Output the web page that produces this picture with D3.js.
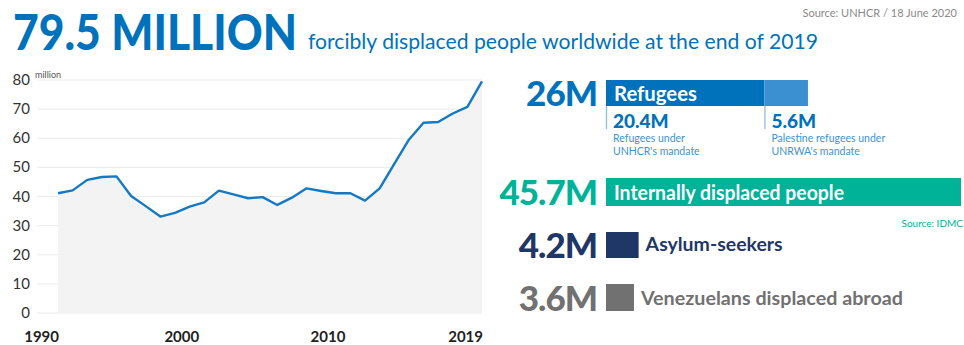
<!DOCTYPE html>
<html>
<head>
<meta charset="utf-8">
<script src="https://cdn.jsdelivr.net/npm/d3@7"></script>
<style>
  body { margin: 0; background: #fff; }
  svg text { font-family: Lato, "Open Sans", sans-serif; }
</style>
</head>
<body>
<svg width="964" height="345"></svg>
<script>
// データ（単位：百万人）
var years = d3.range(1990, 2020);
var displaced = [41.1, 42.1, 45.7, 46.7, 46.9, 40.2, 36.7, 33.1, 34.4, 36.5,
                 38.0, 42.0, 40.7, 39.4, 39.8, 37.1, 39.6, 42.8, 41.9, 41.1,
                 41.1, 38.6, 42.8, 51.2, 59.5, 65.3, 65.6, 68.5, 70.8, 79.5];
var yTicks = [0, 10, 20, 30, 40, 50, 60, 70, 80];
var xTicks = [1990, 2000, 2010, 2019];

// 右側の内訳
var groups = ["Refugees", "Internally displaced people", "Asylum-seekers", "Venezuelans displaced abroad"];
var groupValues = [26, 45.7, 4.2, 3.6];
var groupLabels = ["26M", "45.7M", "4.2M", "3.6M"];
var groupColors = ["#0072bc", "#00b398", "#1f3766", "#717171"];
var refugeeParts = [20.4, 5.6];
var refugeePartLabels = ["20.4M", "5.6M"];
var refugeePartText = [["Refugees under", "UNHCR's mandate"], ["Palestine refugees under", "UNRWA's mandate"]];

var svg = d3.select("svg");
var blue = "#0072bc";

// タイトル
svg.append("text").attr("x", 13).attr("y", 50)
   .attr("font-size", 49).attr("font-weight", 900).attr("fill", blue)
   .attr("textLength", 284).attr("lengthAdjust", "spacingAndGlyphs")
   .text("79.5 MILLION");
svg.append("text").attr("x", 308).attr("y", 49)
   .attr("font-size", 21).attr("fill", blue)
   .attr("textLength", 510).attr("lengthAdjust", "spacingAndGlyphs")
   .text("forcibly displaced people worldwide at the end of 2019");
svg.append("text").attr("x", 957).attr("y", 17).attr("text-anchor", "end")
   .attr("font-size", 11).attr("fill", "#8a8a8a")
   .text("Source: UNHCR / 18 June 2020");

// 折れ線グラフ
var x = d3.scaleLinear().domain([1990, 2019]).range([58, 482]);
var y = d3.scaleLinear().domain([0, 80]).range([313, 80]);

var chart = svg.append("g");
chart.selectAll("line.grid").data(yTicks).enter().append("line")
   .attr("class", "grid")
   .attr("x1", 37).attr("x2", 482)
   .attr("y1", function(d){ return y(d); }).attr("y2", function(d){ return y(d); })
   .attr("stroke", "#ebebeb").attr("stroke-width", 1);

var pts = years.map(function(yr, i){ return [yr, displaced[i]]; });
chart.append("path").datum(pts)
   .attr("d", d3.area().x(function(d){ return x(d[0]); }).y0(y(0)).y1(function(d){ return y(d[1]); }))
   .attr("fill", "#f3f3f3");
chart.append("path").datum(pts)
   .attr("d", d3.line().x(function(d){ return x(d[0]); }).y(function(d){ return y(d[1]); }))
   .attr("fill", "none").attr("stroke", "#1479c4").attr("stroke-width", 2.4)
   .attr("stroke-linejoin", "round");

chart.selectAll("text.ytick").data(yTicks).enter().append("text")
   .attr("class", "ytick")
   .attr("x", 30).attr("y", function(d){ return y(d) + 5; })
   .attr("text-anchor", "end").attr("font-size", 15).attr("fill", "#333")
   .text(function(d){ return d; });
chart.append("text").attr("x", 35).attr("y", 78)
   .attr("font-size", 9).attr("fill", "#555").text("million");

chart.selectAll("text.xtick").data(xTicks).enter().append("text")
   .attr("class", "xtick")
   .attr("x", function(d){ return (d === 2019 || d === 1990) ? x(d) + 1 : x(d) - 5; })
   .attr("y", 342).attr("text-anchor", "end")
   .attr("font-size", 15).attr("font-weight", 700).attr("fill", "#222")
   .text(function(d){ return d; });

// 右側の棒
var bx = d3.scaleLinear().domain([0, 45.7]).range([606, 961]);
var rows = [
  { top: 80, h: 26, base: 106, label: 101, len: 83 },
  { top: 178, h: 28, base: 205, label: 200, len: 230 },
  { top: 232, h: 26, base: 258, label: 251, len: 137 },
  { top: 284, h: 27, base: 311, label: 305, len: 262 }
];

var right = svg.append("g");
groups.forEach(function(g, i){
  var r = rows[i];
  right.append("text").attr("x", 597).attr("y", r.base)
     .attr("text-anchor", "end").attr("font-size", 35).attr("font-weight", 900)
     .attr("fill", groupColors[i]).attr("letter-spacing", -1)
     .text(groupLabels[i]);
  if (i === 0) {
    // 難民は2つに分ける
    right.append("rect").attr("x", bx(0)).attr("y", r.top)
       .attr("width", bx(refugeeParts[0]) - bx(0)).attr("height", r.h).attr("fill", blue);
    right.append("rect").attr("x", bx(refugeeParts[0])).attr("y", r.top)
       .attr("width", bx(refugeeParts[0] + refugeeParts[1]) - bx(refugeeParts[0])).attr("height", r.h)
       .attr("fill", "#3a90d0");
  } else {
    right.append("rect").attr("x", bx(0)).attr("y", r.top)
       .attr("width", bx(groupValues[i]) - bx(0)).attr("height", r.h).attr("fill", groupColors[i]);
  }
  var inside = i < 2;
  right.append("text")
     .attr("x", inside ? 614 : bx(groupValues[i]) + 7)
     .attr("y", r.label)
     .attr("font-size", inside ? 20 : 18.5).attr("font-weight", 700)
     .attr("fill", inside ? "#fff" : groupColors[i])
     .attr("textLength", r.len).attr("lengthAdjust", "spacingAndGlyphs")
     .text(g);
});

// 難民の内訳
var starts = [0, refugeeParts[0]];
starts.forEach(function(s, i){
  var px = bx(s);
  right.append("line").attr("x1", px + 0.5).attr("x2", px + 0.5)
     .attr("y1", 106).attr("y2", 129)
     .attr("stroke", "#8cbde6").attr("stroke-width", 1.3);
  right.append("text").attr("x", px + 7).attr("y", 128)
     .attr("font-size", 19).attr("font-weight", 900).attr("fill", blue)
     .text(refugeePartLabels[i]);
  refugeePartText[i].forEach(function(t, j){
    right.append("text").attr("x", px + 7).attr("y", 142 + j * 13)
       .attr("font-size", 10.5).attr("fill", "#3d93d3")
       .text(t);
  });
});

right.append("text").attr("x", 963).attr("y", 227).attr("text-anchor", "end")
   .attr("font-size", 10).attr("fill", "#00b398").text("Source: IDMC");
</script>
</body>
</html>
